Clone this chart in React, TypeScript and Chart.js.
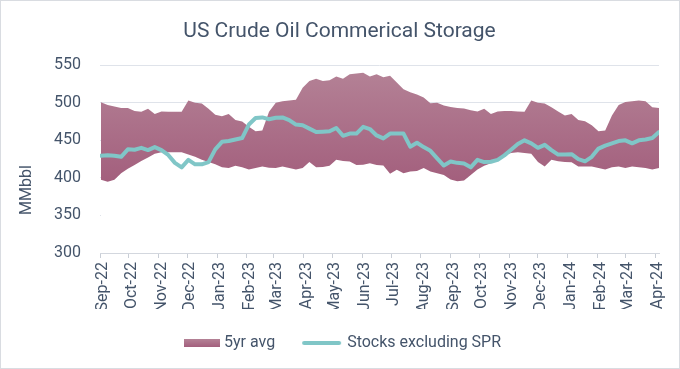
import React, { useEffect, useRef } from 'react';
import { Chart, registerables } from 'chart.js';

Chart.register(...registerables);

const TITLE = 'US Crude Oil Commerical Storage';
const Y_TITLE = 'MMbbl';
const BAND_LABEL = '5yr avg';
const LINE_LABEL = 'Stocks excluding SPR';

// axis starts 1 Sep 2022; first weekly observation 2 Sep 2022
const AXIS_START = Date.UTC(2022, 8, 1);
const FIRST_WEEK = Date.UTC(2022, 8, 2);
const AXIS_END = Date.UTC(2024, 3, 5);
const monthLabels = [
  'Sep-22', 'Oct-22', 'Nov-22', 'Dec-22', 'Jan-23', 'Feb-23', 'Mar-23', 'Apr-23',
  'May-23', 'Jun-23', 'Jul-23', 'Aug-23', 'Sep-23', 'Oct-23', 'Nov-23', 'Dec-23',
  'Jan-24', 'Feb-24', 'Mar-24', 'Apr-24',
];
const yMin = 300;
const yMax = 550;
const yStep = 50;

const upper5yr = [
  500.7, 497, 495, 493, 493, 489, 488, 492, 485, 488.5,
  488, 488, 488, 503, 500, 499, 492, 484, 482, 485,
  477, 475, 468, 462, 463, 488, 500, 502, 503, 504,
  520, 529, 532, 529, 530, 535, 532, 538, 539, 540,
  535, 538, 534, 536, 527, 518, 514, 511, 507, 499.5,
  500, 496.5, 494.5, 493, 492.5, 490, 488.5, 492, 485, 488.5,
  489, 489, 488.5, 488, 503, 500, 499, 494, 488.5, 483,
  485, 477, 475.5, 470, 462, 463, 483, 497, 501, 502,
  503, 502, 494, 493,
];

const lower5yr = [
  397.6, 395, 397.5, 406, 412, 417, 422.6, 427, 432, 434,
  434, 434, 434, 431, 428, 424, 421, 418, 414, 413,
  416, 414, 411, 413, 415, 413.5, 413, 415, 413, 411,
  413, 421, 414, 414.5, 416, 424, 422.5, 421.7, 417, 417.5,
  419.5, 417.3, 416.4, 405.5, 410.8, 406.3, 408.5, 409, 413, 408.5,
  406, 404, 398, 395.5, 396.5, 404, 411, 416, 419.5, 424,
  430, 433, 434, 433, 432, 421, 415, 424, 422, 421,
  420.8, 415, 415, 415, 413, 411, 414, 415, 413, 415,
  414, 413, 411, 413,
];

const stocksExSPR = [
  429.6, 430, 429.5, 428, 438, 437.5, 440, 437, 441, 437,
  430.5, 420, 414, 424, 418, 418, 421, 438, 448, 449,
  451, 453, 471, 479.7, 480.5, 478, 480, 480.5, 477, 471,
  470, 465.6, 461, 461.5, 462, 466.5, 456, 459, 459, 468,
  465, 456.5, 452.5, 459, 459, 459, 441.5, 446.8, 441, 436,
  426, 416.4, 421.7, 420, 419, 414, 424, 421, 421.5, 424,
  430, 437.5, 445, 450, 446, 440, 444, 437, 431, 431,
  431.5, 425, 422, 428, 439, 443, 446, 449, 450, 446,
  450, 451, 453, 461,
];

const DAY = 86400000;
const TEXT = '#44546a';
const LINE_COLOR = '#80c6c7';
const BAND_TOP = 'rgb(180,130,150)';
const BAND_BOTTOM = 'rgb(163,95,125)';
const FONT = 'Roboto, "Liberation Sans", sans-serif';

const dayOf = (t: number) => Math.round((t - AXIS_START) / DAY);
const weekX = stocksExSPR.map((_, i) => dayOf(FIRST_WEEK) + 7 * i);
const monthTicks = monthLabels.map((_, k) => dayOf(Date.UTC(2022, 8 + k, 1)));
const toPoints = (arr: number[]) => arr.map((v, i) => ({ x: weekX[i], y: v }));

function makeBoxImg() {
  const c = document.createElement('canvas');
  c.width = 46;
  c.height = 8;
  const g = c.getContext('2d')!;
  const gr = g.createLinearGradient(0, 0, 0, 8);
  gr.addColorStop(0, BAND_TOP);
  gr.addColorStop(1, BAND_BOTTOM);
  g.fillStyle = gr;
  g.fillRect(10, 0, 36, 8);
  return c;
}

function makeLineImg() {
  const c = document.createElement('canvas');
  c.width = 44;
  c.height = 6;
  const g = c.getContext('2d')!;
  g.strokeStyle = LINE_COLOR;
  g.lineWidth = 4;
  g.lineCap = 'round';
  g.beginPath();
  g.moveTo(6, 3);
  g.lineTo(41, 3);
  g.stroke();
  return c;
}

const frame = {
  id: 'frame',
  beforeDraw(chart: any) {
    const { ctx, width, height } = chart;
    ctx.save();
    ctx.fillStyle = '#ffffff';
    ctx.fillRect(0, 0, width, height);
    ctx.restore();
  },
  afterDraw(chart: any) {
    const { ctx, width, height, chartArea } = chart;
    ctx.save();
    ctx.strokeStyle = '#d9dce1';
    ctx.lineWidth = 1;
    ctx.strokeRect(0.5, 0.5, width - 1, height - 1);
    const xs = chart.scales.x;
    const cy = (chartArea.top + xs.bottom) / 2 + 3;
    ctx.translate(27, cy);
    ctx.rotate(-Math.PI / 2);
    ctx.font = '16px ' + FONT;
    ctx.fillStyle = TEXT;
    ctx.textAlign = 'center';
    ctx.textBaseline = 'middle';
    ctx.fillText(Y_TITLE, 0, 0);
    ctx.restore();
  },
};

export default function App() {
  const ref = useRef<HTMLCanvasElement>(null);
  useEffect(() => {
    if (!ref.current) return;
    const boxImg = makeBoxImg();
    const lineImg = makeLineImg();
    const chart = new Chart(ref.current, {
      type: 'line',
      data: {
        datasets: [
          {
            label: LINE_LABEL,
            data: toPoints(stocksExSPR),
            borderColor: LINE_COLOR,
            borderWidth: 4,
            pointRadius: 0,
            borderCapStyle: 'round',
            borderJoinStyle: 'round',
            fill: false,
            tension: 0,
          },
          {
            label: BAND_LABEL,
            data: toPoints(upper5yr),
            borderWidth: 0,
            borderColor: 'rgba(0,0,0,0)',
            pointRadius: 0,
            fill: '+1',
            tension: 0,
            backgroundColor: (ctx: any) => {
              const chart = ctx.chart;
              const ys = chart.scales?.y;
              if (!ys || !chart.chartArea) return BAND_BOTTOM;
              const g = chart.ctx.createLinearGradient(0, ys.getPixelForValue(545), 0, ys.getPixelForValue(395));
              g.addColorStop(0, BAND_TOP);
              g.addColorStop(1, BAND_BOTTOM);
              return g;
            },
          },
          {
            label: 'lower',
            data: toPoints(lower5yr),
            borderWidth: 0,
            borderColor: 'rgba(0,0,0,0)',
            pointRadius: 0,
            fill: 'start',
            backgroundColor: '#ffffff',
            tension: 0,
          },
        ],
      },
      options: {
        responsive: false,
        animation: false,
        devicePixelRatio: 1,
        layout: { padding: { left: 20, right: 21, top: 0, bottom: 8 } },
        plugins: {
          tooltip: { enabled: false },
          title: {
            display: true,
            text: TITLE,
            color: TEXT,
            font: { family: FONT, size: 21, weight: 'normal' },
            padding: { top: 19, bottom: 21 },
          },
          legend: {
            position: 'bottom',
            labels: {
              usePointStyle: true,
              pointStyleWidth: 38,
              boxHeight: 8,
              padding: 26,
              color: TEXT,
              font: { family: FONT, size: 16 },
              generateLabels: () => [
                { text: BAND_LABEL, pointStyle: boxImg, datasetIndex: 1, hidden: false, lineWidth: 0, fillStyle: BAND_BOTTOM, strokeStyle: 'rgba(0,0,0,0)', fontColor: TEXT },
                { text: LINE_LABEL, pointStyle: lineImg, datasetIndex: 0, hidden: false, lineWidth: 0, fillStyle: LINE_COLOR, strokeStyle: 'rgba(0,0,0,0)', fontColor: TEXT },
              ] as any,
            },
          },
        },
        scales: {
          x: {
            type: 'linear',
            min: 0,
            max: dayOf(AXIS_END),
            z: 1,
            afterBuildTicks: (scale: any) => {
              scale.ticks = monthTicks.map((v) => ({ value: v }));
            },
            afterFit: (scale: any) => {
              scale.height = 56;
            },
            grid: { display: true, drawOnChartArea: false, drawTicks: true, tickLength: 5, color: '#c9ced6' },
            border: { display: true, color: '#d3d7de' },
            ticks: {
              autoSkip: false,
              maxRotation: 90,
              minRotation: 90,
              padding: 4,
              labelOffset: 3,
              color: TEXT,
              font: { family: FONT, size: 16 },
              callback: (v: any) => {
                const k = monthTicks.indexOf(Number(v));
                return k >= 0 ? monthLabels[k] : '';
              },
            },
          },
          y: {
            min: yMin,
            max: yMax,
            afterFit: (scale: any) => {
              scale.width = 80;
            },
            ticks: { stepSize: yStep, padding: 19, color: TEXT, font: { family: FONT, size: 16 } },
            grid: { color: '#dfe3ea', drawTicks: false },
            border: { display: false },
          },
        },
      },
      plugins: [frame],
    } as any);
    return () => chart.destroy();
  }, []);
  return (
    <div style={{ position: 'absolute', left: 0, top: 0 }}>
      <canvas ref={ref} width={680} height={369} style={{ display: 'block', width: 680, height: 369 }} />
    </div>
  );
}
